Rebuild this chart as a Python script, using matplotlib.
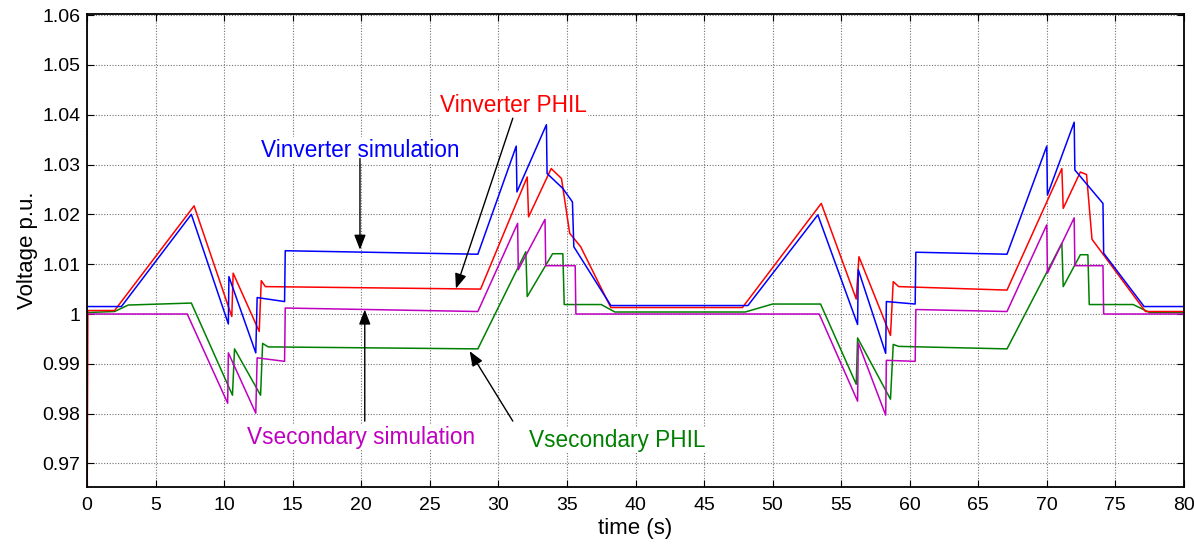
import numpy as np
import matplotlib.pyplot as plt

plt.rcParams['font.family'] = ['Liberation Sans', 'DejaVu Sans']

# breakpoints (time in s, voltage in p.u.)
t_inv_sim = [0, 2.5, 7.6, 10.3, 10.34, 12.3, 12.4, 14.4, 14.45, 28.5, 31.3, 31.35,
             33.5, 33.55, 34.7, 35.4, 35.5, 38.2, 48.2, 53.3, 56.2, 56.25, 58.25,
             58.3, 60.4, 60.45, 67.1, 70.0, 70.05, 72.0, 72.05, 74.1, 74.15, 77.1, 80]
v_inv_sim = [1.0015, 1.0015, 1.0200, 0.9980, 1.0075, 0.9922, 1.0033, 1.0025, 1.0127,
             1.0120, 1.0337, 1.0245, 1.0380, 1.0282, 1.0252, 1.0225, 1.0135, 1.0017,
             1.0017, 1.0199, 0.9979, 1.0089, 0.9921, 1.0025, 1.0020, 1.0124, 1.0120,
             1.0337, 1.0239, 1.0385, 1.0289, 1.0222, 1.0122, 1.0015, 1.0015]

t_inv_phil = [0, 0.05, 2.0, 7.8, 10.55, 10.65, 12.55, 12.7, 13.0, 28.7, 32.1, 32.2,
              33.85, 34.6, 35.2, 36.0, 38.2, 47.8, 53.55, 56.1, 56.3, 58.6, 58.8, 59.2,
              67.1, 71.1, 71.2, 72.45, 72.9, 73.3, 77.2, 80]
v_inv_phil = [0.963, 1.0007, 1.0007, 1.0217, 0.9995, 1.0082, 0.9965, 1.0067, 1.0055,
              1.0050, 1.0275, 1.0195, 1.0292, 1.0272, 1.0162, 1.0135, 1.0013, 1.0013,
              1.0222, 1.0030, 1.0115, 0.9957, 1.0065, 1.0055, 1.0048, 1.0292, 1.0212,
              1.0285, 1.0280, 1.0150, 1.0005, 1.0005]

t_sec_sim = [0, 7.3, 10.25, 10.3, 12.3, 12.4, 14.4, 14.45, 28.5, 31.4, 31.45, 33.4,
             33.45, 35.6, 35.65, 53.4, 56.2, 56.25, 58.25, 58.3, 60.4, 60.45, 67.1,
             70.0, 70.05, 72.0, 72.05, 74.1, 74.15, 80]
v_sec_sim = [1.0, 1.0, 0.9821, 0.9922, 0.9801, 0.9912, 0.9905, 1.0012, 1.0005, 1.0182,
             1.0089, 1.0190, 1.0097, 1.0097, 1.0, 1.0, 0.9825, 0.9942, 0.9797, 0.9907,
             0.9905, 1.0009, 1.0005, 1.0179, 1.0082, 1.0193, 1.0097, 1.0097, 1.0, 1.0]

t_sec_phil = [0, 2.0, 3.0, 7.6, 10.6, 10.75, 12.65, 12.8, 13.2, 28.5, 32.0, 32.1, 33.95,
              34.7, 34.8, 37.5, 38.5, 48.0, 50.0, 53.5, 56.1, 56.2, 58.6, 58.8, 59.2,
              67.1, 71.1, 71.2, 72.45, 73.0, 73.1, 76.3, 77.5, 80]
v_sec_phil = [1.0003, 1.0005, 1.0018, 1.0022, 0.9837, 0.9930, 0.9837, 0.9941, 0.9934,
              0.9930, 1.0125, 1.0035, 1.0121, 1.0121, 1.0019, 1.0019, 1.0004, 1.0004,
              1.0020, 1.0020, 0.9859, 0.9952, 0.9829, 0.9939, 0.9935, 0.9930, 1.0142,
              1.0055, 1.0119, 1.0119, 1.0019, 1.0019, 1.0003, 1.0003]

x_ticks = list(range(0, 81, 5))
y_ticks = [0.97, 0.98, 0.99, 1.00, 1.01, 1.02, 1.03, 1.04, 1.05, 1.06]
y_tick_labels = ['0.97', '0.98', '0.99', '1', '1.01', '1.02', '1.03', '1.04', '1.05', '1.06']

fig = plt.figure(figsize=(11.94, 5.44), dpi=100)
ax = fig.add_axes([0.073, 0.105, 0.9185, 0.870])

ax.plot(t_sec_phil, v_sec_phil, color='#008000', lw=1.1)
ax.plot(t_sec_sim, v_sec_sim, color='#c000c0', lw=1.1)
ax.plot(t_inv_phil, v_inv_phil, color='#ff0000', lw=1.1)
ax.plot(t_inv_sim, v_inv_sim, color='#0000ff', lw=1.1)

ax.set_xlim(0, 80)
ax.set_ylim(0.9653, 1.0603)
ax.set_xticks(x_ticks)
ax.set_yticks(y_ticks)
ax.set_yticklabels(y_tick_labels)
ax.tick_params(direction='in', top=True, right=True, length=5, labelsize=14)
ax.tick_params(axis='x', pad=7)
ax.tick_params(axis='y', pad=5)
ax.grid(True, linestyle=(0, (1, 1.5)), color='0.45', lw=0.8)
for s in ax.spines.values():
    s.set_linewidth(1.3)

ax.set_xlabel('time (s)', fontsize=16, labelpad=3)
ax.set_ylabel('Voltage p.u.', fontsize=16, labelpad=3)

# labels with arrows
box = dict(facecolor='white', edgecolor='none', pad=1)
ax.text(19.9, 1.0329, 'Vinverter simulation', color='#0000ff', fontsize=16.3,
        ha='center', va='center', bbox=box)
ax.text(31.1, 1.0419, 'Vinverter PHIL', color='#ff0000', fontsize=16.3,
        ha='center', va='center', bbox=box)
ax.text(20.0, 0.9752, 'Vsecondary simulation', color='#c000c0', fontsize=16.3,
        ha='center', va='center', bbox=box)
ax.text(38.7, 0.9746, 'Vsecondary PHIL', color='#008000', fontsize=16.3,
        ha='center', va='center', bbox=box)

arrow = dict(arrowstyle='-|>,head_length=0.9,head_width=0.35', color='black',
             lw=1.0, shrinkA=0, shrinkB=0)
ax.annotate('', xy=(19.9, 1.0129), xytext=(19.9, 1.0312), arrowprops=arrow)
ax.annotate('', xy=(26.9, 1.0051), xytext=(31.05, 1.0393), arrowprops=arrow)
ax.annotate('', xy=(20.25, 1.0009), xytext=(20.25, 0.9785), arrowprops=arrow)
ax.annotate('', xy=(27.9, 0.99255), xytext=(31.05, 0.9785), arrowprops=arrow)

fig.savefig('out.png', dpi=100)
